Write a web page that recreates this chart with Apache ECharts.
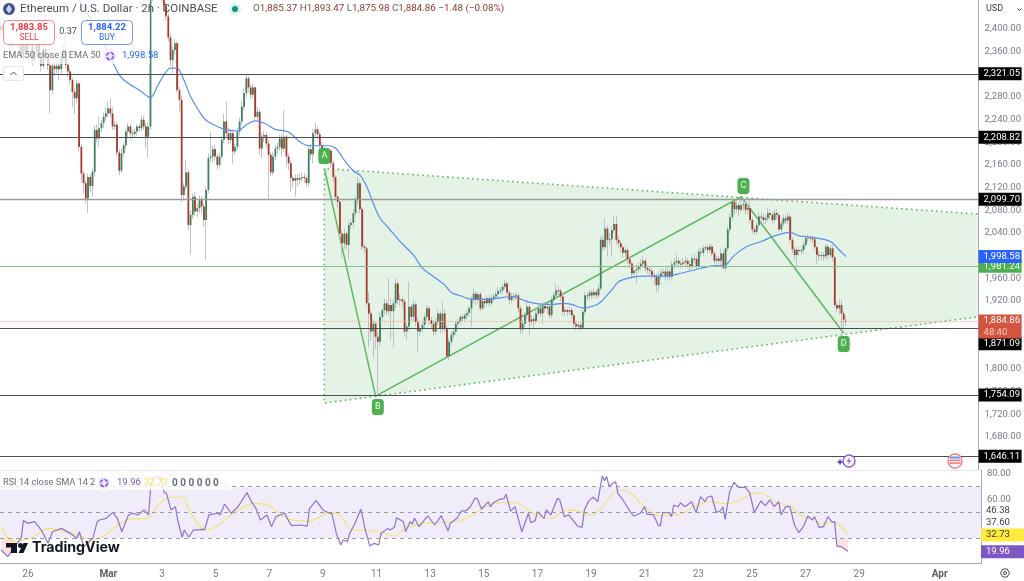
<!DOCTYPE html>
<html><head><meta charset="utf-8">
<style>html,body{margin:0;padding:0;background:#fff}#c{width:1024px;height:581px}</style>
<script src="https://cdn.jsdelivr.net/npm/echarts@6/dist/echarts.min.js"></script>
</head><body><div id="c"></div>
<script>
const SLOT_COUNT = 439;
const tickIndex = [12,48,72,96,120,144,168,192,216,240,264,288,312,336,360,384,420];
const tickText = ['26','Mar','3','5','7','9','11','13','15','17','19','21','23','25','27','29','Apr'];
const priceTicks = [2400,2360,2320,2280,2240,2200,2160,2120,2080,2040,2000,1960,1920,1880,1840,1800,1760,1720,1680];
const rsiTicks = [80,60];

const opens = [
2398,2405,2392,2380,2398,2370,2385,2410,2395,2372,
2350,2375,2362,2390,2376,2345,2360,2378,2350,2335,
2365,2352,2336,2292,2335,2329,2335,2329,2351,2363,
2337,2325,2310,2289,2278,2304,2192,2145,2128,2101,
2139,2123,2148,2222,2207,2225,2234,2245,2251,2260,
2251,2228,2231,2182,2150,2181,2195,2219,2228,2216,
2215,2219,2228,2225,2240,2228,2210,2228,2458,2475,
2500,2510,2490,2460,2442,2422,2385,2345,2363,2375,
2292,2275,2107,2122,2147,2054,2072,2104,2078,2084,
2098,2087,2063,2116,2172,2175,2188,2175,2160,2175,
2204,2237,2216,2204,2216,2184,2192,2219,2237,2263,
2287,2313,2297,2284,2297,2245,2254,2189,2210,2213,
2198,2178,2147,2175,2189,2192,2207,2189,2210,2175,
2163,2137,2132,2137,2134,2137,2139,2137,2128,2188,
2179,2216,2223,2214,2195,2186,2182,2185,2185,2163,
2139,2104,2095,2039,2022,2039,2019,2054,2058,2075,
2098,2128,2082,2016,2013,1916,1898,1866,1880,1857,
1848,1892,1904,1916,1902,1913,1902,1916,1951,1922,
1923,1919,1866,1875,1910,1892,1914,1883,1866,1872,
1878,1892,1907,1886,1880,1866,1883,1898,1872,1898,
1872,1822,1848,1860,1866,1880,1883,1892,1889,1895,
1899,1907,1922,1933,1922,1932,1907,1920,1916,1925,
1916,1925,1928,1932,1938,1939,1945,1951,1935,1922,
1929,1928,1930,1907,1870,1880,1895,1910,1883,1888,
1885,1898,1907,1898,1911,1907,1910,1895,1922,1930,
1939,1938,1928,1901,1904,1901,1904,1895,1880,1875,
1878,1873,1901,1930,1929,1935,1930,1936,1930,1942,
2028,2015,2048,2028,2029,2045,2056,2028,2022,2015,
2005,2010,1994,1986,1969,1974,1976,1981,1986,1991,
1978,1975,1973,1966,1963,1948,1963,1969,1972,1963,
1972,1963,1984,1988,1991,1986,1985,1988,1991,1985,
1981,1995,1994,1981,2007,2005,2013,2015,2010,2016,
2004,1991,1995,1991,2004,1978,2013,2046,2068,2095,
2082,2089,2081,2089,2091,2081,2084,2063,2046,2042,
2054,2069,2068,2063,2066,2075,2072,2063,2075,2072,
2046,2057,2066,2062,2069,2028,2011,2001,2010,2008,
2010,2019,2031,2032,2031,2029,2015,2001,2000,2001,
1999,2016,2001,2013,1997,1913,1907,1913,1898,1885.37];
const closes = [
2405,2392,2380,2398,2370,2385,2410,2395,2372,2350,
2375,2362,2390,2376,2345,2360,2378,2350,2335,2365,
2352,2336,2292,2335,2329,2335,2329,2351,2363,2337,
2325,2310,2289,2278,2304,2192,2145,2128,2101,2139,
2123,2148,2222,2207,2225,2234,2245,2251,2260,2251,
2228,2231,2182,2150,2181,2195,2219,2228,2216,2215,
2219,2228,2225,2240,2228,2210,2228,2458,2475,2500,
2510,2490,2460,2442,2422,2385,2345,2363,2375,2292,
2275,2107,2122,2147,2054,2072,2104,2078,2084,2098,
2087,2063,2116,2172,2175,2188,2175,2160,2175,2204,
2237,2216,2204,2216,2184,2192,2219,2237,2263,2287,
2313,2297,2284,2297,2245,2254,2189,2210,2213,2198,
2178,2147,2175,2189,2192,2207,2189,2210,2175,2163,
2137,2132,2137,2134,2137,2139,2137,2128,2188,2179,
2216,2223,2214,2195,2186,2182,2185,2185,2163,2139,
2104,2095,2039,2022,2039,2019,2054,2058,2075,2098,
2128,2082,2016,2013,1916,1898,1866,1880,1857,1848,
1892,1904,1916,1902,1913,1902,1916,1951,1922,1923,
1919,1866,1875,1910,1892,1914,1883,1866,1872,1878,
1892,1907,1886,1880,1866,1883,1898,1872,1898,1872,
1822,1848,1860,1866,1880,1883,1892,1889,1895,1899,
1907,1922,1933,1922,1932,1907,1920,1916,1925,1916,
1925,1928,1932,1938,1939,1945,1951,1935,1922,1929,
1928,1930,1907,1870,1880,1895,1910,1883,1888,1885,
1898,1907,1898,1911,1907,1910,1895,1922,1930,1939,
1938,1928,1901,1904,1901,1904,1895,1880,1875,1878,
1873,1901,1930,1929,1935,1930,1936,1930,1942,2028,
2015,2048,2028,2029,2045,2056,2028,2022,2015,2005,
2010,1994,1986,1969,1974,1976,1981,1986,1991,1978,
1975,1973,1966,1963,1948,1963,1969,1972,1963,1972,
1963,1984,1988,1991,1986,1985,1988,1991,1985,1981,
1995,1994,1981,2007,2005,2013,2015,2010,2016,2004,
1991,1995,1991,2004,1978,2013,2046,2068,2095,2082,
2089,2081,2089,2091,2081,2084,2063,2046,2042,2054,
2069,2068,2063,2066,2075,2072,2063,2075,2072,2046,
2057,2066,2062,2069,2028,2011,2001,2010,2008,2010,
2019,2031,2032,2031,2029,2015,2001,2000,2001,1999,
2016,2001,2013,1997,1913,1907,1913,1898,1887,1884.86];
const highs = [
2412,2410,2398,2404,2402,2392,2418,2414,2400,2378,
2382,2380,2396,2395,2380,2368,2384,2382,2356,2372,
2370,2358,2378,2345,2342,2344,2340,2358,2372,2378,
2342,2330,2314,2295,2310,2308,2196,2150,2132,2145,
2144,2154,2230,2232,2245,2240,2252,2262,2272,2278,
2262,2238,2236,2188,2190,2200,2224,2234,2232,2222,
2224,2232,2233,2248,2246,2234,2236,2465,2490,2515,
2525,2518,2495,2465,2448,2428,2392,2370,2382,2378,
2298,2282,2128,2170,2152,2080,2110,2112,2092,2106,
2104,2092,2122,2180,2219,2194,2195,2180,2182,2212,
2250,2272,2226,2224,2222,2198,2226,2244,2272,2294,
2319,2318,2302,2303,2300,2262,2258,2216,2220,2218,
2204,2182,2182,2196,2200,2214,2214,2257,2214,2180,
2168,2142,2144,2144,2146,2147,2146,2142,2194,2198,
2224,2234,2228,2218,2200,2192,2190,2190,2188,2168,
2142,2108,2098,2044,2048,2042,2060,2064,2082,2104,
2139,2132,2086,2020,2016,1936,1904,1888,1884,1865,
1900,1908,1925,1922,1960,1925,1922,1960,1955,1932,
1928,1924,1880,1954,1915,1922,1918,1890,1878,1884,
1898,1912,1912,1892,1885,1890,1906,1902,1919,1906,
1876,1854,1866,1872,1885,1888,1896,1896,1899,1904,
1912,1928,1942,1938,1936,1936,1926,1926,1930,1930,
1930,1934,1938,1944,1945,1950,1957,1955,1940,1934,
1934,1936,1934,1912,1888,1900,1920,1914,1896,1894,
1904,1914,1912,1918,1918,1916,1914,1928,1936,1951,
1946,1942,1932,1910,1908,1910,1908,1898,1884,1882,
1884,1906,1936,1936,1940,1940,1942,1940,1950,2034,
2036,2066,2054,2040,2052,2069,2069,2034,2026,2018,
2016,2014,1998,1990,1980,1984,1988,1994,2000,1996,
1984,1980,1978,1970,1968,1970,1976,1978,1978,1980,
1976,1990,1996,2004,1996,1992,1996,1998,1996,1992,
2002,2004,1998,2012,2014,2018,2019,2018,2022,2020,
2008,2000,2000,2012,2010,2016,2052,2074,2100,2098,
2098,2094,2104,2100,2096,2090,2098,2068,2050,2060,
2076,2076,2074,2072,2084,2082,2078,2082,2082,2076,
2064,2072,2072,2076,2072,2032,2016,2014,2016,2016,
2024,2036,2038,2036,2036,2034,2018,2008,2006,2006,
2022,2020,2018,2018,2000,1918,1922,1922,1902,1893.47];
const lows = [
2390,2386,2372,2374,2362,2362,2380,2388,2365,2340,
2342,2355,2358,2370,2336,2340,2352,2344,2325,2330,
2346,2328,2251,2285,2320,2322,2310,2322,2345,2330,
2315,2302,2262,2250,2270,2185,2130,2110,2092,2075,
2112,2104,2140,2200,2192,2218,2225,2238,2245,2245,
2222,2222,2176,2142,2146,2175,2188,2206,2205,2207,
2208,2212,2218,2220,2222,2190,2174,2222,2450,2470,
2490,2480,2450,2430,2415,2378,2335,2322,2355,2288,
2255,2095,2098,2115,2045,2003,2065,2070,2068,2075,
2075,2051,1991,2110,2165,2165,2168,2152,2155,2170,
2198,2210,2196,2198,2163,2178,2186,2212,2230,2256,
2280,2288,2276,2278,2238,2238,2178,2172,2200,2190,
2101,2140,2142,2168,2180,2185,2176,2182,2157,2150,
2113,2120,2104,2122,2126,2130,2128,2120,2122,2170,
2163,2208,2206,2188,2178,2174,2176,2178,2155,2130,
2098,2085,2030,1995,2012,2012,1993,2046,2050,2068,
2090,2075,2010,2005,1910,1839,1850,1820,1835,1752,
1840,1884,1896,1895,1895,1850,1839,1908,1915,1912,
1910,1858,1851,1868,1885,1885,1875,1830,1858,1865,
1872,1886,1878,1872,1858,1860,1878,1863,1866,1864,
1818,1816,1842,1854,1860,1874,1878,1884,1884,1888,
1892,1875,1916,1912,1915,1902,1904,1908,1910,1910,
1912,1920,1922,1926,1932,1932,1940,1930,1915,1916,
1920,1922,1900,1862,1864,1874,1888,1860,1878,1872,
1880,1892,1892,1880,1900,1898,1890,1890,1916,1924,
1930,1920,1895,1894,1894,1895,1888,1874,1868,1870,
1868,1870,1896,1922,1922,1924,1925,1924,1926,1938,
2008,2010,1998,2020,1998,2040,2020,2014,2006,1996,
1998,1986,1978,1960,1960,1951,1970,1974,1980,1972,
1968,1966,1958,1950,1935,1935,1958,1962,1956,1958,
1956,1958,1978,1982,1980,1978,1980,1982,1978,1974,
1976,1986,1975,1976,1998,2000,2008,2004,2004,1998,
1984,1984,1986,1984,1976,1974,2008,2040,2062,2072,
2076,2070,2076,2080,2072,2074,2058,2040,2037,2038,
2050,2060,2056,2056,2060,2064,2056,2058,2064,2042,
2042,2052,2056,2056,2022,2004,1992,1979,2000,2002,
2004,2014,2024,2024,2022,2008,1986,1990,1992,1990,
1994,1994,1996,1990,1908,1900,1896,1863,1870,1875.98];

const emaIdx = [35,40,44,49,53,56,62,67,70,73,76,79,82,85,89,92,97,101,106,110,114,119,123,129,134,138,143,147,150,152,155,158,161,164,167,170,174,179,185,189,193,199,202,207,211,217,223,229,232,237,241,247,252,256,261,267,270,274,277,281,287,293,299,305,313,319,325,329,335,341,347,354,358,365,372,376,379];
const emaVal = [2451,2419,2392,2351,2319,2307,2292,2279,2298,2319,2331,2331,2310,2281,2254,2239,2228,2222,2220,2231,2238,2232,2223,2218,2201,2194,2194,2194,2190,2180,2163,2150,2142,2122,2092,2066,2048,2025,2001,1978,1966,1948,1935,1928,1923,1923,1925,1928,1925,1918,1915,1914,1916,1914,1908,1913,1922,1940,1954,1960,1964,1964,1964,1969,1977,1982,1984,2001,2017,2025,2035,2041,2035,2032,2025,2010,1998.58];

const rsiIdx = [0,3,6,9,10,12,15,18,21,23,27,31,34,35,37,41,43,44,47,50,52,54,57,59,61,64,66,67,69,71,73,74,76,78,79,81,82,84,86,90,91,93,97,98,100,103,106,110,112,114,116,119,121,123,127,128,130,134,137,138,141,144,147,148,150,152,153,155,156,158,161,163,165,167,169,170,173,174,176,177,180,181,183,184,185,187,191,194,197,200,201,204,206,208,210,212,213,215,218,219,220,223,225,226,228,230,233,236,237,239,240,243,244,246,249,250,252,254,258,260,261,263,265,267,269,270,271,272,275,276,278,281,283,286,288,289,292,294,295,296,299,300,301,303,304,306,309,311,313,315,316,318,320,322,323,324,326,328,330,333,335,337,340,342,344,346,348,349,351,353,355,357,359,361,363,364,366,368,370,372,373,374,376,379];
const rsiVal = [20.9,15.8,23.5,30,43.7,41.6,42.9,36.4,26.1,35.1,37.7,33.8,30,35.1,23.5,30,42.9,44.2,45.5,50.1,45.5,35.1,48.1,49.4,48.1,52,48.1,71.3,77.8,78.3,65.4,64.9,52,54.5,44.2,30.8,36.4,30.8,36.4,36.9,36.4,48.1,49.4,48.1,56.6,49.4,54.5,65.4,58.4,53.2,44.2,48.1,39,46.8,49.4,45.5,39.8,40.3,39.5,53.2,59.2,52,49.4,49.4,33.8,24.8,28.7,27.4,33.8,40.3,52.7,36.4,24,26.1,24.8,33.8,37.7,36.4,38.5,46,42.9,35.1,42.9,41.1,45.5,39,47.3,40.3,47.5,35.6,41.6,45.5,51.1,51.4,54.5,61,61,52.7,58.4,54.5,57.1,60.2,60.7,64.1,51.1,54.5,35.1,49.4,42.1,43.7,50.6,45.5,52,48.1,61,59.7,46.8,48.1,39.5,38.5,52,59.2,61.8,58.4,78.3,74.7,77.8,70.5,73.9,64.9,60.5,52,47.3,49.4,54.5,48.8,48.1,40.3,39.5,49.9,49.9,46.8,55.8,54.5,57.6,54.5,58.4,49.9,62.3,58.4,61.8,62.8,50.1,51.4,54.5,44.7,66.1,73.4,69.5,69.5,65.4,50.1,58.9,55.3,59.7,54.5,58.4,48.1,54.5,54.5,40.3,34.4,39,47.3,44.2,46.8,38.5,39,46.8,42.4,42.9,24,23.5,19.96];

const smaIdx = [0,3,6,9,13,19,22,28,34,41,46,52,57,66,71,76,81,85,89,92,98,104,113,119,128,134,138,147,152,157,162,170,176,181,189,196,205,211,217,225,231,237,243,246,253,258,264,268,276,281,287,295,304,310,317,325,332,337,340,347,353,359,364,367,372,379];
const smaVal = [39,30,27.4,28.2,30,36.4,37.5,35.1,32.6,29.2,31.8,40.3,44.7,46,57.1,61.8,61.8,49.4,39,36.4,41.1,49.4,57.1,55.8,45.5,43.4,43.4,50.1,46.8,36.4,36.2,34.6,31.8,37.7,41.6,42.4,43.4,48.1,54.5,57.9,57.1,50.6,45.5,45.5,52,51.4,48.1,52,67.4,66.1,55.8,47.5,48.6,54.5,58.4,56.6,61,64.9,64.9,57.6,55.3,46.8,44.7,41.1,42.9,32.73];

const zoneIdx = [145,438,438,145];
const zoneVal = [2154,2073.5,1892,1740];
const pathIdx = [145,168,332,378];
const pathVal = [2154,1752,2104,1863];
const pointNames = ['A','B','C','D'];
const pointTagIdx = [145,169,333,378];
const pointTagVal = [2176,1733,2123,1844];

const levels = [2321.05,2208.82,2099.70,1981.24,1871.09,1754.09,1646.11];
const levelColors = ['#4a4d57','#4a4d57','#9a9a9a','#86c08a','#4a4d57','#4a4d57','#4a4d57'];
const levelTagAt = [2321.05,2208.82,2099.70,1981.24,1844.6,1754.09,1646.11];
const levelTagBg = ['#000','#000','#000','#4caf50','#000','#000','#000'];

const FONT = 'Roboto, "Liberation Sans", sans-serif';
const GREY = '#787b86';
const fmt = v => v.toLocaleString('en-US',{minimumFractionDigits:2,maximumFractionDigits:2});

function tag(value, text, bg, color, height){
  return {yAxis:value, lineStyle:{color:'rgba(0,0,0,0)',width:0}, label:{show:true,position:'end',distance:0,formatter:text,
    color:color||'#fff',backgroundColor:bg||'transparent',width:38,height:height||13,lineHeight:height||13,padding:[0,0,0,5],
    fontSize:9.5,fontFamily:FONT,align:'left',verticalAlign:'middle'}};
}
const mainMarks = levels.map((v,i)=>({yAxis:v,lineStyle:{color:levelColors[i],width:i===2?1.4:1,type:'solid'},label:{show:false}}));
mainMarks.push({yAxis:1884.86,lineStyle:{color:'#f2a99b',width:1,type:'dotted'},label:{show:false}});
levelTagAt.forEach((v,i)=>mainMarks.push(tag(v,fmt(levels[i]),levelTagBg[i])));
mainMarks.push(tag(1998.58,'1,998.58','#2962ff'));
mainMarks.push(tag(1884.86,'1,884.86','#d4543f'));
mainMarks.push(tag(1864.5,'48:40','#d4543f','#f8c9c0',12));

const rsiMarks = [70,50,30].map(v=>({yAxis:v,lineStyle:{color:'#9a9aa5',width:1,type:[4,4]},label:{show:false}}));
rsiMarks.push(tag(51.4,'46.38',null,'#3a3d47'));
rsiMarks.push(tag(41.9,'37.60',null,'#3a3d47'));
rsiMarks.push(tag(32.6,'32.73','#ffeb3b','#3a3d47'));
rsiMarks.push(tag(19.6,'19.96','#7e57c2','#fff'));

function zoneItem(params, api){
  const zone = zoneIdx.map((x,i)=>api.coord([x,zoneVal[i]]));
  const path = pathIdx.map((x,i)=>api.coord([x,pathVal[i]]));
  return {type:'group',children:[
    {type:'polygon',shape:{points:zone},style:{fill:'rgba(76,175,80,0.15)'}},
    {type:'polyline',shape:{points:[zone[1],zone[0],zone[3],zone[2]]},style:{fill:null,stroke:'#5cb860',lineWidth:1.6,lineDash:[1.6,3.4]}},
    {type:'polyline',shape:{points:path},style:{fill:null,stroke:'#5cb860',lineWidth:1.5}}
  ]};
}
function bodyItem(params, api){
  const i=api.value(0), o=api.value(1), c=api.value(2);
  const a=api.coord([i,o]), b=api.coord([i,c]);
  const top=Math.min(a[1],b[1]), h=Math.max(1,Math.abs(a[1]-b[1]));
  return {type:'rect',shape:{x:a[0]-0.9,y:top,width:1.8,height:h},style:{fill:c>=o?'#3f8060':'#a43a2a'}};
}

const option = {
  animation:false, backgroundColor:'#fff',
  grid:[{left:0,right:43,top:0,height:470},{left:0,right:43,top:470,height:93}],
  xAxis:[
    {type:'category',gridIndex:0,data:Array.from({length:SLOT_COUNT},(_,i)=>String(i)),axisLabel:{show:false},axisTick:{show:false},
      axisLine:{show:true,onZero:false,lineStyle:{color:'#e8e4f5'}},splitLine:{show:false}},
    {type:'category',gridIndex:1,data:Array.from({length:SLOT_COUNT},(_,i)=>String(i)),axisTick:{show:false},
      axisLine:{show:true,onZero:false,lineStyle:{color:'#a8a8a8',width:1}},splitLine:{show:false},
      axisLabel:{interval:(i)=>tickIndex.includes(i),hideOverlap:false,margin:6,fontSize:10,fontFamily:FONT,color:GREY,
        formatter:(v,i)=>{const t=tickText[tickIndex.indexOf(i)];return (t==='Mar'||t==='Apr')?'{b|'+t+'}':t;},
        rich:{b:{fontWeight:'bold',fontSize:10,color:'#5d606b',fontFamily:FONT}}}}
  ],
  yAxis:[
    {type:'value',gridIndex:0,position:'right',min:1621.8,max:2451.2,splitLine:{show:false},axisTick:{show:false},
      axisLine:{show:true,onZero:false,lineStyle:{color:'#a8a8a8'}},
      axisLabel:{customValues:priceTicks,formatter:fmt,fontSize:9.5,fontFamily:FONT,color:GREY,margin:6}},
    {type:'value',gridIndex:1,position:'right',min:10.85,max:82.95,splitLine:{show:false},axisTick:{show:false},
      axisLine:{show:true,onZero:false,lineStyle:{color:'#a8a8a8'}},
      axisLabel:{customValues:rsiTicks,formatter:fmt,fontSize:9.5,fontFamily:FONT,color:GREY,margin:6}}
  ],
  series:[
    {type:'custom',name:'Pattern zone',xAxisIndex:0,yAxisIndex:0,z:1,silent:true,renderItem:zoneItem,data:[[0,2000]],clip:true},
    {type:'candlestick',name:'ETHUSD',xAxisIndex:0,yAxisIndex:0,z:2,barWidth:1.2,silent:true,clip:true,
      data:closes.map((c,i)=>[opens[i],c,lows[i],highs[i]]),
      itemStyle:{color:'#b9bcc2',color0:'#b9bcc2',borderColor:'#b9bcc2',borderColor0:'#b9bcc2',borderWidth:0.9}},
    {type:'custom',name:'Candle bodies',xAxisIndex:0,yAxisIndex:0,z:3,silent:true,renderItem:bodyItem,clip:true,
      encode:{x:0,y:[1,2]},data:closes.map((c,i)=>[i,opens[i],c])},
    {type:'line',name:'EMA 50',xAxisIndex:0,yAxisIndex:0,z:4,symbol:'none',silent:true,smooth:0.3,clip:true,
      data:emaIdx.map((x,i)=>[x,emaVal[i]]),lineStyle:{color:'#5b8df0',width:1.2},
      markLine:{silent:true,symbol:'none',z:6,precision:2,data:mainMarks}},
    {type:'scatter',name:'Pattern points',xAxisIndex:0,yAxisIndex:0,z:7,silent:true,symbol:'roundRect',symbolSize:[12,16],
      data:pointNames.map((n,i)=>({name:n,value:[pointTagIdx[i],pointTagVal[i]]})),itemStyle:{color:'#4caf50',opacity:1},
      label:{show:true,position:'inside',formatter:'{b}',color:'#fff',fontSize:9,fontFamily:FONT}},
    {type:'line',name:'RSI low',xAxisIndex:1,yAxisIndex:1,z:2,symbol:'none',silent:true,lineStyle:{width:0},
      areaStyle:{origin:30,color:'rgba(244,120,120,0.3)'},
      data:rsiIdx.map((x,i)=>[x,rsiVal[i]]).filter(p=>p[0]>=374)},
    {type:'line',name:'RSI low start',xAxisIndex:1,yAxisIndex:1,z:2,symbol:'none',silent:true,lineStyle:{width:0},
      areaStyle:{origin:30,color:'rgba(244,120,120,0.3)'},
      data:rsiIdx.map((x,i)=>[x,rsiVal[i]]).filter(p=>p[0]<=6)},
    {type:'line',name:'RSI SMA',xAxisIndex:1,yAxisIndex:1,z:3,symbol:'none',silent:true,smooth:0.3,
      data:smaIdx.map((x,i)=>[x,smaVal[i]]),lineStyle:{color:'#f5e36c',width:1.1}},
    {type:'line',name:'RSI',xAxisIndex:1,yAxisIndex:1,z:4,symbol:'none',silent:true,
      data:rsiIdx.map((x,i)=>[x,rsiVal[i]]),lineStyle:{color:'#8f72cf',width:1.2},
      markArea:{silent:true,itemStyle:{color:'#f0ecf9'},data:[[{yAxis:70},{yAxis:30}]]},
      markLine:{silent:true,symbol:'none',z:6,precision:2,data:rsiMarks}}
  ],
  graphic:{elements:[
    {type:'rect',z:50,shape:{x:0,y:0,width:150,height:64},style:{fill:'rgba(255,255,255,0.72)'}},
    {type:'rect',z:50,shape:{x:0,y:471,width:231,height:19},style:{fill:'rgba(255,255,255,0.8)'}},
    {type:'circle',z:51,shape:{cx:9,cy:9,r:6},style:{fill:'#3f4f8f'}},
    {type:'polygon',z:52,shape:{points:[[9,4.5],[12,9.3],[9,13.5],[6,9.3]]},style:{fill:'#cfd6ee'}},
    {type:'text',z:51,style:{x:20,y:9,text:'Ethereum / U.S. Dollar · 2h · COINBASE',font:'11.5px '+FONT,fill:'#4a4d57',verticalAlign:'middle'}},
    {type:'circle',z:51,shape:{cx:235,cy:9,r:6},style:{fill:'#dff1ec'}},
    {type:'circle',z:52,shape:{cx:235,cy:9,r:3},style:{fill:'#089981'}},
    {type:'text',z:51,style:{x:253,y:9,verticalAlign:'middle',font:'9.8px '+FONT,
      text:'{g|O}{r|1,885.37} {g|H}{r|1,893.47} {g|L}{r|1,875.98} {g|C}{r|1,884.86} {r|−1.48 (−0.08%)}',
      rich:{g:{fill:'#5d606b',font:'9.8px '+FONT},r:{fill:'#8f3a2d',font:'9.8px '+FONT}}}},
    {type:'rect',z:51,shape:{x:3.5,y:20.5,width:51,height:24,r:4},style:{fill:'#fff',stroke:'#f7848f',lineWidth:1}},
    {type:'text',z:52,style:{x:29,y:28,text:'1,883.85',font:'bold 9.5px '+FONT,fill:'#f23645',align:'center',verticalAlign:'middle'}},
    {type:'text',z:52,style:{x:29,y:38,text:'SELL',font:'8.5px '+FONT,fill:'#f23645',align:'center',verticalAlign:'middle'}},
    {type:'text',z:51,style:{x:68,y:32,text:'0.37',font:'9px '+FONT,fill:'#4a4d57',align:'center',verticalAlign:'middle'}},
    {type:'rect',z:51,shape:{x:81.5,y:20.5,width:51,height:24,r:4},style:{fill:'#fff',stroke:'#6f97f5',lineWidth:1}},
    {type:'text',z:52,style:{x:107,y:28,text:'1,884.22',font:'bold 9.5px '+FONT,fill:'#2962ff',align:'center',verticalAlign:'middle'}},
    {type:'text',z:52,style:{x:107,y:38,text:'BUY',font:'8.5px '+FONT,fill:'#2962ff',align:'center',verticalAlign:'middle'}},
    {type:'text',z:51,style:{x:3,y:56,text:'EMA 50 close 0 EMA 50',font:'9.2px '+FONT,fill:'#6a6d78',verticalAlign:'middle'}},
    {type:'circle',z:51,shape:{cx:110,cy:56,r:6},style:{fill:'#ede7fb'}},
    {type:'circle',z:52,shape:{cx:110,cy:56,r:3.5},style:{fill:'none',stroke:'#7c4dff',lineWidth:1.6,lineDash:[4,1.5]}},
    {type:'text',z:51,style:{x:122,y:56,text:'1,998.58',font:'9.5px '+FONT,fill:'#2962ff',verticalAlign:'middle'}},
    {type:'rect',z:51,shape:{x:3.5,y:66.5,width:20,height:14,r:2},style:{fill:'#fff',stroke:'#e4e4e8',lineWidth:1}},
    {type:'polyline',z:52,shape:{points:[[10.5,75],[13.5,72],[16.5,75]]},style:{fill:null,stroke:'#4a4d57',lineWidth:1}},
    {type:'text',z:51,style:{x:3,y:483,text:'RSI 14 close SMA 14 2',font:'9.2px '+FONT,fill:'#6a6d78',verticalAlign:'middle'}},
    {type:'circle',z:51,shape:{cx:104,cy:483,r:6},style:{fill:'#ede7fb'}},
    {type:'circle',z:52,shape:{cx:104,cy:483,r:3.5},style:{fill:'none',stroke:'#7c4dff',lineWidth:1.6,lineDash:[4,1.5]}},
    {type:'text',z:51,style:{x:117,y:483,text:'19.96',font:'9.5px '+FONT,fill:'#7e57c2',verticalAlign:'middle'}},
    {type:'text',z:51,style:{x:144,y:483,text:'32.73',font:'9.5px '+FONT,fill:'#f5e14f',verticalAlign:'middle'}},
    {type:'text',z:51,style:{x:172,y:483,text:'0 0 0 0 0 0',font:'bold 10px '+FONT,fill:'#6a6d78',verticalAlign:'middle'}},
    {type:'rect',z:60,shape:{x:6,y:543,width:11,height:4.5},style:{fill:'#131722'}},
    {type:'rect',z:60,shape:{x:11,y:543,width:6,height:10},style:{fill:'#131722'}},
    {type:'circle',z:60,shape:{cx:20.5,cy:545.5,r:2.5},style:{fill:'#131722'}},
    {type:'polygon',z:60,shape:{points:[[23.5,543],[28,543],[23.5,553],[18.5,553]]},style:{fill:'#131722'}},
    {type:'text',z:60,style:{x:32,y:548,text:'TradingView',font:'bold 14.2px Inter, '+FONT,fill:'#131722',verticalAlign:'middle'}},
    {type:'circle',z:51,shape:{cx:849,cy:461,r:6},style:{fill:'#fff',stroke:'#8e5ce0',lineWidth:1.4}},
    {type:'polygon',z:52,shape:{points:[[850,457],[846.5,461.8],[849,461.8],[848,465],[851.5,460.2],[849,460.2]]},style:{fill:'#8e5ce0'}},
    {type:'polygon',z:52,shape:{points:[[840,458.5],[841,461],[843.5,462],[841,463],[840,465.5],[839,463],[836.5,462],[839,461]]},style:{fill:'#5a35e0'}},
    {type:'circle',z:51,shape:{cx:955,cy:461,r:7},style:{fill:'#fff',stroke:'#f77c80',lineWidth:1.4}},
    {type:'rect',z:52,shape:{x:950,y:456.5,width:10,height:2},style:{fill:'#5b9be0'}},
    {type:'rect',z:52,shape:{x:949.5,y:459.5,width:11,height:1.6},style:{fill:'#f77c80'}},
    {type:'rect',z:52,shape:{x:949.5,y:462.3,width:11,height:1.6},style:{fill:'#f77c80'}},
    {type:'text',z:51,style:{x:986,y:9,text:'USD',font:'9px '+FONT,fill:'#3a3d47',verticalAlign:'middle'}},
    {type:'polyline',z:51,shape:{points:[[1017.5,8.5],[1019.5,10.5],[1021.5,8.5]]},style:{fill:null,stroke:'#3a3d47',lineWidth:1}},
    {type:'polygon',z:51,shape:{points:[[1000.5,573],[1002.8,569],[1007.2,569],[1009.5,573],[1007.2,577],[1002.8,577]]},style:{fill:null,stroke:'#4a4d57',lineWidth:1}},
    {type:'circle',z:51,shape:{cx:1005,cy:573,r:1.5},style:{fill:null,stroke:'#4a4d57',lineWidth:1}}
  ]}
};
echarts.init(document.getElementById('c'),null,{renderer:'canvas'}).setOption(option);
</script>
</body></html>
